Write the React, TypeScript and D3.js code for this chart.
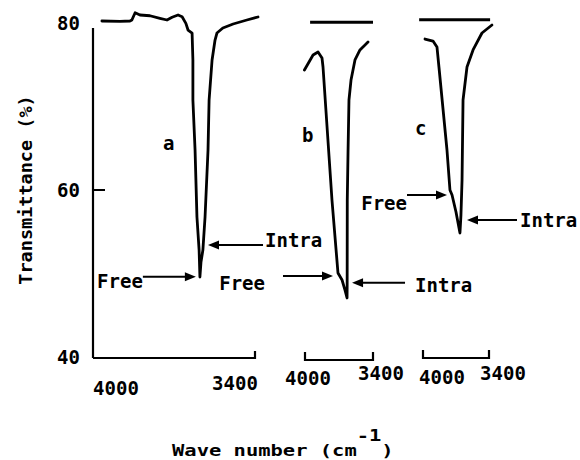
import React from "react";
import * as d3 from "d3";

const width = 580;
const height = 460;

const xTicks = [4000, 3400];
const yTicks = [80, 60, 40];

// spectrum a (wavenumber cm-1, transmittance %)
const waveA = [3967, 3900, 3863, 3856, 3844, 3826, 3789, 3752, 3726, 3707, 3685, 3670, 3656, 3648, 3633, 3630, 3630, 3622, 3615, 3607, 3604, 3600, 3593, 3585, 3574, 3570, 3559, 3548, 3541, 3519, 3481, 3430, 3389];
const transA = [80.24, 80.2, 80.24, 80.36, 81.23, 80.96, 80.87, 80.56, 80.36, 80.68, 80.96, 80.75, 79.96, 79.16, 78.8, 75.57, 70.78, 64.79, 56.77, 52.81, 49.58, 51.38, 52.81, 56.77, 64.79, 70.78, 75.57, 77.96, 78.8, 79.4, 79.88, 80.36, 80.72];

// spectrum b
const waveB = [4005, 3929, 3885, 3850, 3841, 3762, 3709, 3673, 3647, 3629, 3628, 3627, 3620, 3612, 3594, 3559, 3515, 3444];
const transB = [74.37, 76.17, 76.53, 75.81, 74.73, 58.8, 50.06, 49.22, 48.02, 47.07, 48.62, 58.8, 64.79, 70.78, 73.17, 75.57, 76.77, 77.72];

// spectrum c
const waveC = [3982, 3909, 3873, 3855, 3782, 3755, 3736, 3700, 3664, 3655, 3645, 3636, 3600, 3545, 3464, 3373];
const transC = [78.08, 77.84, 77.13, 74.73, 64.79, 60.0, 59.4, 57.37, 54.85, 57.0, 61.2, 70.78, 74.73, 76.77, 78.8, 79.76];

// short flat lines above b and c
const refPanel = ["b", "c"];
const refFrom = [3955, 4035];
const refTo = [3400, 3390];
const refValue = [80.1, 80.4];

// arrow annotations: tip position in data units
const noteLabel = ["Free", "Intra", "Free", "Intra", "Free", "Intra"];
const notePanel = ["a", "a", "b", "b", "c", "c"];
const noteWave = [3619, 3574, 3753, 3585, 3782, 3600];
const noteTrans = [49.6, 53.4, 49.7, 48.9, 59.4, 56.4];

// panel placement on the page
const panels = [
  { id: "a", x0: 93, x1: 255, axisDy: 1, letter: [3741, 64.8], tickDx: [23, -20], tickDy: [38, 33] },
  { id: "b", x0: 305, x1: 373, axisDy: 3, letter: [4026, 65.75], tickDx: [3, 8], tickDy: [28, 23] },
  { id: "c", x0: 423, x1: 489, axisDy: 1, letter: [4073, 66.6], tickDx: [19, 14], tickDy: [27, 23] },
];

const noteLayout = [
  { side: -1, len: 53, gap: 0, dy: 11 },
  { side: 1, len: 55, gap: 2, dy: 2 },
  { side: -1, len: 50, gap: 18, dy: 14 },
  { side: 1, len: 53, gap: 10, dy: 9 },
  { side: -1, len: 40, gap: 0, dy: 15 },
  { side: 1, len: 50, gap: 3, dy: 7 },
];

const font = "'DejaVu Sans Mono', 'Liberation Mono', monospace";

export default function App() {
  const yScale = d3.scaleLinear().domain([40, 80]).range([357, 23]);
  const xScales: Record<string, d3.ScaleLinear<number, number>> = {};
  panels.forEach((p) => {
    xScales[p.id] = d3.scaleLinear().domain([4000, 3400]).range([p.x0, p.x1]);
  });

  const spectra = [
    { id: "a", wave: waveA, trans: transA },
    { id: "b", wave: waveB, trans: transB },
    { id: "c", wave: waveC, trans: transC },
  ];

  const y0 = yScale(40);

  return (
    <svg
      width={width}
      height={height}
      style={{ position: "absolute", left: 0, top: 0, background: "#fff" }}
      fontFamily={font}
      fontWeight="bold"
    >
      {/* y axis of panel a */}
      <line x1={93} x2={93} y1={yScale(79.4)} y2={y0 + 1} stroke="#000" strokeWidth={2.2} />
      <line x1={93} x2={105} y1={yScale(60)} y2={yScale(60)} stroke="#000" strokeWidth={2} />
      {yTicks.map((v) => (
        <text key={v} x={80} y={yScale(v) + 7} textAnchor="end" fontSize={19}>
          {v}
        </text>
      ))}
      <text
        transform={`translate(32,${yScale(60)}) rotate(-90)`}
        textAnchor="middle"
        fontSize={18.5}
      >
        Transmittance (%)
      </text>

      {/* x brackets and tick labels */}
      {panels.map((p) => {
        const x = xScales[p.id];
        const by = y0 + p.axisDy;
        const d =
          p.id === "a"
            ? `M${x(4000)},${by}H${x(3400)}V${by - 7}`
            : `M${x(4000)},${by - 8}V${by}H${x(3400)}V${by - 8}`;
        return (
          <g key={p.id}>
            <path d={d} fill="none" stroke="#000" strokeWidth={2.2} />
            {xTicks.map((t, i) => (
              <text key={t} x={x(t) + p.tickDx[i]} y={y0 + p.tickDy[i]} textAnchor="middle" fontSize={19}>
                {t}
              </text>
            ))}
            <text x={x(p.letter[0])} y={yScale(p.letter[1])} fontSize={19}>
              {p.id}
            </text>
          </g>
        );
      })}

      {/* reference lines */}
      {refPanel.map((id, i) => {
        const x = xScales[id];
        return (
          <line
            key={id}
            x1={x(refFrom[i])}
            x2={x(refTo[i])}
            y1={yScale(refValue[i])}
            y2={yScale(refValue[i])}
            stroke="#000"
            strokeWidth={3}
          />
        );
      })}

      {/* spectra */}
      {spectra.map((s) => {
        const x = xScales[s.id];
        const line = d3
          .line<number>()
          .x((_, i) => x(s.wave[i]))
          .y((_, i) => yScale(s.trans[i]));
        return (
          <path
            key={s.id}
            d={line(s.wave) || ""}
            fill="none"
            stroke="#000"
            strokeWidth={2.8}
            strokeLinejoin="round"
            strokeLinecap="round"
          />
        );
      })}

      {/* annotations */}
      {noteLabel.map((label, i) => {
        const L = noteLayout[i];
        const tx = xScales[notePanel[i]](noteWave[i]);
        const ty = yScale(noteTrans[i]);
        const tail = tx + L.side * L.len;
        const head = `M${tx},${ty}L${tx + L.side * 11},${ty - 4.5}L${tx + L.side * 11},${ty + 4.5}Z`;
        return (
          <g key={i}>
            <line x1={tail} x2={tx + L.side * 9} y1={ty} y2={ty} stroke="#000" strokeWidth={2} />
            <path d={head} fill="#000" />
            <text
              x={tail + L.side * L.gap}
              y={ty + L.dy}
              textAnchor={L.side < 0 ? "end" : "start"}
              fontSize={19}
            >
              {label}
            </text>
          </g>
        );
      })}

      {/* x title, wide typewriter lettering */}
      <text transform="translate(172,456) scale(1.24,1)" fontSize={16.5}>
        Wave number (cm
        <tspan dy={-15}>-1</tspan>
        <tspan dy={15}>)</tspan>
      </text>
    </svg>
  );
}
